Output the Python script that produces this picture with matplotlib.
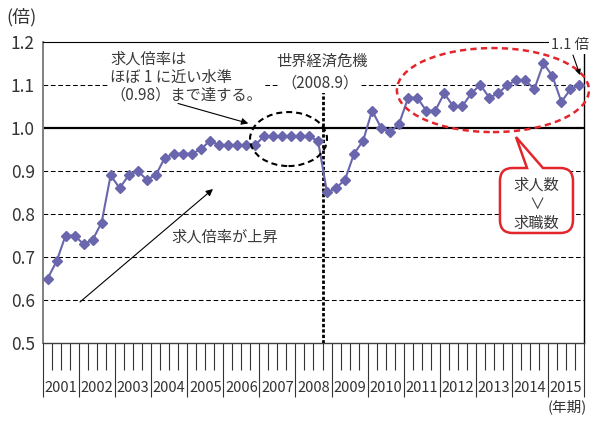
import matplotlib
matplotlib.use("Agg")
import matplotlib.pyplot as plt
from matplotlib.patches import Ellipse, PathPatch
from matplotlib.path import Path
import numpy as np

plt.rcParams['font.family'] = ['Noto Sans CJK JP', 'DejaVu Sans']

# Quarterly ratio of job offers to applicants, 2001Q1 - 2015Q4
years = list(range(2001, 2016))
ratio = [
    0.65, 0.69, 0.75, 0.75,   # 2001
    0.73, 0.74, 0.78, 0.89,   # 2002
    0.86, 0.89, 0.90, 0.88,   # 2003
    0.89, 0.93, 0.94, 0.94,   # 2004
    0.94, 0.95, 0.97, 0.96,   # 2005
    0.96, 0.96, 0.96, 0.96,   # 2006
    0.98, 0.98, 0.98, 0.98,   # 2007
    0.98, 0.98, 0.97, 0.85,   # 2008
    0.86, 0.88, 0.94, 0.97,   # 2009
    1.04, 1.00, 0.99, 1.01,   # 2010
    1.07, 1.07, 1.04, 1.04,   # 2011
    1.08, 1.05, 1.05, 1.08,   # 2012
    1.10, 1.07, 1.08, 1.10,   # 2013
    1.11, 1.11, 1.09, 1.15,   # 2014
    1.12, 1.06, 1.09, 1.10,   # 2015
]
y_ticks = [0.5, 0.6, 0.7, 0.8, 0.9, 1.0, 1.1, 1.2]
y_tick_labels = ['0.5', '0.6', '0.7', '0.8', '0.9', '1.0', '1.1', '1.2']
dashed_levels = [0.6, 0.7, 0.8, 0.9, 1.1]

LINE_C = '#6a66ad'
TEXT_C = '#3a3a3a'
RED = '#e3262c'

fig = plt.figure(figsize=(5.9, 4.21), dpi=100)
ax = fig.add_axes([0.0729, 0.1846, 0.9169, 0.7164])

n = len(ratio)
x = np.arange(n) + 0.5
ax.set_xlim(0, n)
ax.set_ylim(0.5, 1.2)

# reference lines
for v in dashed_levels:
    ax.axhline(v, color='black', lw=0.75, ls=(0, (4.5, 2.6)), zorder=1)
ax.axhline(1.0, color='black', lw=1.6, zorder=2)

# spines
ax.spines['left'].set_color('#808080')
ax.spines['left'].set_linewidth(1.4)
ax.spines['bottom'].set_color('#404040')
ax.spines['bottom'].set_linewidth(1.0)
ax.spines['top'].set_color('black')
ax.spines['top'].set_linewidth(0.8)
ax.spines['right'].set_color('black')
ax.spines['right'].set_linewidth(1.0)

# x axis: long ticks at year boundaries, short ticks at quarters
ax.set_xticks(np.arange(0, n + 1, 4))
ax.set_xticks(np.arange(0, n + 1, 1), minor=True)
ax.tick_params(axis='x', which='major', length=38.9, width=0.8, color='#333333',
               direction='out', labelbottom=False)
ax.tick_params(axis='x', which='minor', length=19.4, width=0.8, color='#333333',
               direction='out', labelbottom=False)
for i, yr in enumerate(years):
    ax.annotate(str(yr), xy=(4 * i + 2, 0), xycoords=('data', 'axes fraction'),
                xytext=(0, -32.4), textcoords='offset points',
                ha='center', va='center', fontsize=10.5, color='#333333')

ax.set_yticks(y_ticks)
ax.set_yticklabels(y_tick_labels, fontsize=12.5, color='#333333')
ax.tick_params(axis='y', length=0, pad=5.8)

# data series
ax.plot(x, ratio, color=LINE_C, lw=1.5, marker='D', ms=5.5, zorder=5)

# annotations
ax.text(7.43, 1.118, '求人倍率は\nほぼ 1 に近い水準\n（0.98）まで達する。',
        ha='left', va='center', fontsize=11, linespacing=1.1, color=TEXT_C,
        bbox=dict(fc='white', ec='none', boxstyle='square,pad=0.15'), zorder=6)
ax.annotate('', xy=(22.77, 1.0104), xytext=(14.97, 1.0566),
            arrowprops=dict(arrowstyle='-|>', color='black', lw=0.8,
                            mutation_scale=10, shrinkA=0, shrinkB=0), zorder=6)

ax.text(30.94, 1.155, '世界経済危機', ha='center', va='center', fontsize=11,
        color=TEXT_C, zorder=6)
ax.text(30.7, 1.104, '（2008.9）', ha='center', va='center', fontsize=11,
        color=TEXT_C, bbox=dict(fc='white', ec='none', boxstyle='square,pad=0.1'),
        zorder=6)
ax.plot([31, 31], [0.5, 1.09], color='black', lw=2, ls=(0, (1.2, 0.75)), zorder=4)

ax.add_patch(Ellipse((27.23, 0.974), 8.54, 0.1253, fill=False, ec='black', lw=1.5,
                     ls=(0, (2.9, 1.9)), zorder=6))
ax.add_patch(Ellipse((49.9, 1.0877), 21.3, 0.195, fill=False, ec=RED, lw=1.8,
                     ls=(0, (2.5, 1.7)), zorder=6, clip_on=False))

# callout box with a pointer toward the red ellipse
x0, x1, y0, y1 = 50.68, 58.78, 0.756, 0.9068
rx, ry = 1.4, 0.03
bl, br, tip = 53.68, 55.45, (52.46, 0.9787)
verts = [
    (x0 + rx, y1), (bl, y1), tip, (br, y1), (x1 - rx, y1),
    (x1, y1), (x1, y1 - ry),
    (x1, y0 + ry),
    (x1, y0), (x1 - rx, y0),
    (x0 + rx, y0),
    (x0, y0), (x0, y0 + ry),
    (x0, y1 - ry),
    (x0, y1), (x0 + rx, y1),
    (x0 + rx, y1),
]
codes = [Path.MOVETO, Path.LINETO, Path.LINETO, Path.LINETO, Path.LINETO,
         Path.CURVE3, Path.CURVE3,
         Path.LINETO,
         Path.CURVE3, Path.CURVE3,
         Path.LINETO,
         Path.CURVE3, Path.CURVE3,
         Path.LINETO,
         Path.CURVE3, Path.CURVE3,
         Path.CLOSEPOLY]
ax.add_patch(PathPatch(Path(verts, codes), fc='white', ec=RED, lw=1.8, zorder=7,
                       clip_on=False))
ax.text(54.73, 0.823, '求人数\n∨\n求職数', ha='center', va='center', fontsize=11,
        linespacing=1.18, color=TEXT_C, zorder=8)

ax.text(20.13, 0.7466, '求人倍率が上昇', ha='center', va='center', fontsize=11,
        color=TEXT_C, zorder=6)
ax.annotate('', xy=(18.85, 0.858), xytext=(4.10, 0.5958),
            arrowprops=dict(arrowstyle='-|>', color='black', lw=0.8,
                            mutation_scale=10, shrinkA=0, shrinkB=0), zorder=6)

ax.text(56.3, 1.192, '1.1 倍', ha='left', va='center', fontsize=10.5, color=TEXT_C,
        bbox=dict(fc='white', ec='none', boxstyle='square,pad=0.12'),
        clip_on=False, zorder=8)
ax.annotate('', xy=(59.56, 1.1225), xytext=(58.78, 1.169),
            arrowprops=dict(arrowstyle='-|>', color='black', lw=0.8,
                            mutation_scale=8, shrinkA=0, shrinkB=0), zorder=8)

fig.text(21 / 590, 1 - 17 / 421, '(倍)', ha='center', va='center', fontsize=13,
         color='#333333')
fig.text(567 / 590, 1 - 407 / 421, '(年期)', ha='center', va='center', fontsize=10.5,
         color='#333333')

fig.savefig('out.png', dpi=100)
